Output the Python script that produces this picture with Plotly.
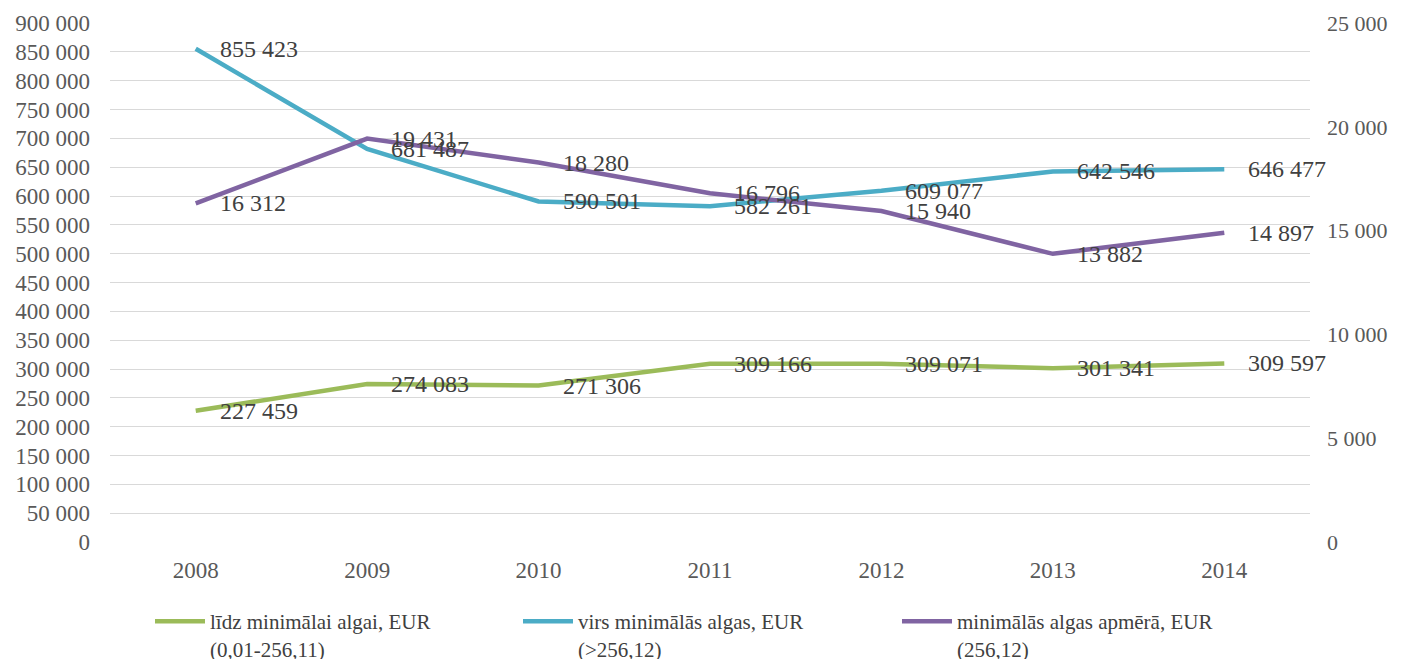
import plotly.graph_objects as go

years = ["2008", "2009", "2010", "2011", "2012", "2013", "2014"]
lidz_min = [227459, 274083, 271306, 309166, 309071, 301341, 309597]
virs_min = [855423, 681487, 590501, 582261, 609077, 642546, 646477]
min_apm = [16312, 19431, 18280, 16796, 15940, 13882, 14897]

names = [
    "līdz minimālai algai, EUR<br>(0,01-256,11)",
    "virs minimālās algas, EUR<br>(>256,12)",
    "minimālās algas apmērā, EUR<br>(256,12)",
]
colors = ["#9BBB59", "#4BACC6", "#8064A2"]

FONT = "Liberation Serif, Times New Roman, serif"

def fmt(v):
    return f"{v:,}".replace(",", " ")

fig = go.Figure()
series = [(lidz_min, "y", "legend"), (virs_min, "y", "legend2"), (min_apm, "y2", "legend3")]
for (vals, yax, leg), name, col in zip(series, names, colors):
    fig.add_trace(go.Scatter(
        x=years, y=vals, name=name, mode="lines", yaxis=yax, legend=leg,
        line=dict(color=col, width=4.5), hoverinfo="skip",
    ))
    for i, yv in enumerate(vals):
        fig.add_annotation(
            x=i, y=yv, xref="x", yref=yax, text=fmt(yv), showarrow=False,
            xanchor="left", yanchor="middle", xshift=22,
            font=dict(family=FONT, size=24, color="#404040"),
        )

# page body has an 8px margin, so the figure is drawn from (8, 8)
W, H = 1393, 651
L, R, T, B = 102, 91, 15, 117

leg_common = dict(
    orientation="v", yanchor="top", xanchor="left",
    yref="container", xref="container", y=1 - 593 / H,
    font=dict(family=FONT, size=21, color="#404040"), bgcolor="rgba(0,0,0,0)",
    valign="top", itemwidth=50,
)

tickfont = dict(family=FONT, size=23, color="#595959")

fig.update_layout(
    width=W, height=H,
    margin=dict(l=L, r=R, t=T, b=B, autoexpand=False),
    plot_bgcolor="white", paper_bgcolor="white",
    separators=", ",
    font=dict(family=FONT, size=23, color="#595959"),
    xaxis=dict(
        type="category", categoryarray=years, categoryorder="array",
        range=[-0.5, 6.5], showgrid=False, zeroline=False, showline=False,
        ticks="", tickfont=tickfont, ticklabelstandoff=12,
    ),
    yaxis=dict(
        range=[0, 900000], dtick=50000, tickformat=",d",
        showgrid=True, gridcolor="#D9D9D9", gridwidth=1.3,
        zeroline=False, showline=False, ticks="",
        tickfont=tickfont, ticklabelstandoff=19,
    ),
    yaxis2=dict(
        range=[0, 25000], dtick=5000, tickformat=",d", overlaying="y",
        side="right", showgrid=False, zeroline=False, showline=False,
        ticks="", tickfont=dict(family=FONT, size=22, color="#595959"),
        ticklabelstandoff=16,
    ),
    legend=dict(x=142 / W, **leg_common),
    legend2=dict(x=510 / W, **leg_common),
    legend3=dict(x=889 / W, **leg_common),
    showlegend=True,
)

fig.write_html("out.html")
